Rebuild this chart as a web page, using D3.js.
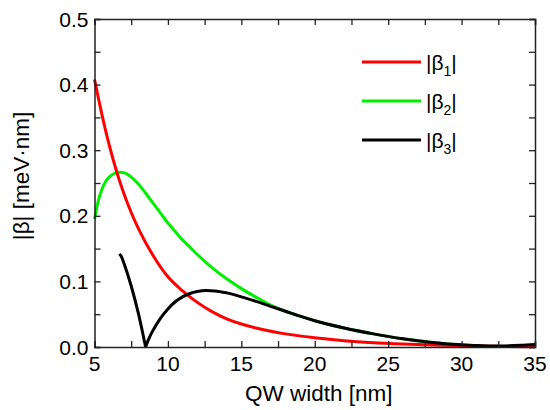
<!DOCTYPE html>
<html><head><meta charset="utf-8">
<script src="https://cdn.jsdelivr.net/npm/d3@7"></script>
<style>body{margin:0;background:#fff}svg{display:block;font-family:"Liberation Sans",Arial,sans-serif}</style>
</head><body><svg id="c" width="550" height="410"></svg>
<script>
const xTicks = [5, 10, 15, 20, 25, 30, 35];
const yTicks = [0.0, 0.1, 0.2, 0.3, 0.4, 0.5];
const seriesNames = ["1", "2", "3"];
const seriesColors = ["#ff0000", "#00ee00", "#000000"];

const beta1X = [5, 5.5, 6, 6.5, 7, 7.5, 8, 9, 10, 11, 12, 13, 14, 15, 16, 18, 20, 22, 24, 26, 28, 30, 32, 35];
const beta1Y = [0.408, 0.355, 0.308, 0.268, 0.234, 0.205, 0.180, 0.139, 0.107, 0.0855, 0.068, 0.054, 0.043, 0.035, 0.029, 0.020, 0.014, 0.0095, 0.0065, 0.0045, 0.003, 0.0018, 0.001, 0.0005];

const beta2X = [5, 5.25, 5.5, 5.75, 6, 6.35, 6.7, 7.1, 7.5, 8, 8.5, 9, 9.5, 10, 10.5, 11, 11.5, 12, 13, 14, 15, 16, 17, 18, 19, 20, 22, 24, 26, 28, 30, 31, 32, 33, 34, 35];
const beta2Y = [0.195, 0.222, 0.240, 0.252, 0.259, 0.2645, 0.2665, 0.265, 0.259, 0.248, 0.234, 0.219, 0.204, 0.189, 0.176, 0.163, 0.152, 0.141, 0.121, 0.104, 0.089, 0.076, 0.064, 0.0545, 0.047, 0.040, 0.029, 0.020, 0.0125, 0.007, 0.003, 0.0015, 0.0008, 0.0008, 0.0012, 0.002];

const beta3X = [6.7, 6.85, 7.0, 7.5, 8.0, 8.48, 8.75, 9.0, 9.5, 10, 10.5, 11, 11.5, 12, 12.6, 13.2, 14, 15, 16, 17, 18, 19, 20, 22, 24, 26, 28, 30, 31, 32, 33, 34, 35];
const beta3Y = [0.142, 0.137, 0.128, 0.093, 0.050, 0, 0.015, 0.026, 0.044, 0.058, 0.069, 0.0765, 0.0815, 0.0845, 0.086, 0.0855, 0.0825, 0.0765, 0.0695, 0.062, 0.0545, 0.047, 0.040, 0.029, 0.020, 0.0125, 0.007, 0.0035, 0.0022, 0.0015, 0.0017, 0.0025, 0.004];
const beta3MinIndex = 5;

const svg = d3.select("#c");
const L = 94.5, R = 535, T = 19, B = 347;
const x = d3.scaleLinear().domain([5, 35]).range([L, R]);
const y = d3.scaleLinear().domain([0, 0.5]).range([B, T]);

const toPts = (xs, ys) => xs.map((v, i) => [v, ys[i]]);
const line = d3.line().x(d => x(d[0])).y(d => y(d[1])).curve(d3.curveMonotoneX);

const plot = svg.append("g");
function drawSeries(pts, color) {
  plot.append("path").attr("d", line(pts)).attr("fill", "none")
    .attr("stroke", color).attr("stroke-width", 3).attr("stroke-linejoin", "round");
}
const p3 = toPts(beta3X, beta3Y);
drawSeries(toPts(beta2X, beta2Y), seriesColors[1]);
drawSeries(toPts(beta1X, beta1Y), seriesColors[0]);
drawSeries(p3.slice(0, beta3MinIndex + 1), seriesColors[2]);
drawSeries(p3.slice(beta3MinIndex), seriesColors[2]);

// axes with inward ticks
const tickLen = 6;
const xMinor = d3.range(5, 35.01, 2.5);
const yMinor = d3.range(0, 0.5001, 0.05);
const xb = d3.axisBottom(x).tickValues(xMinor).tickSize(-tickLen).tickFormat("");
const xt = d3.axisTop(x).tickValues(xMinor).tickSize(-tickLen).tickFormat("");
const yl = d3.axisLeft(y).tickValues(yMinor).tickSize(-tickLen).tickFormat("");
const yr = d3.axisRight(y).tickValues(yMinor).tickSize(-tickLen).tickFormat("");
[[xb, `translate(0,${B})`], [xt, `translate(0,${T})`], [yl, `translate(${L},0)`], [yr, `translate(${R},0)`]].forEach(([a, t]) => {
  const g = svg.append("g").attr("transform", t).call(a);
  g.select(".domain").attr("stroke", "#222").attr("stroke-width", 1.5);
  g.selectAll(".tick line").attr("stroke", "#222").attr("stroke-width", 1.3);
});

// tick labels
svg.append("g").selectAll("text").data(xTicks).join("text")
  .attr("x", d => x(d)).attr("y", B + 24).attr("text-anchor", "middle")
  .attr("font-size", 21).attr("fill", "#000").text(d => d);
svg.append("g").selectAll("text").data(yTicks).join("text")
  .attr("x", L - 6).attr("y", d => y(d) + 7.5).attr("text-anchor", "end")
  .attr("font-size", 21).attr("fill", "#000").text(d => d.toFixed(1));

// axis titles
svg.append("text").attr("x", (L + R) / 2 + 4).attr("y", 401).attr("text-anchor", "middle")
  .attr("font-size", 22.5).attr("fill", "#000").text("QW width [nm]");
svg.append("text").attr("transform", `translate(29,176) rotate(-90)`).attr("text-anchor", "middle")
  .attr("font-size", 22.5).attr("fill", "#000").text("|β| [meV·nm]");

// legend
const lg = svg.append("g");
seriesNames.forEach((n, i) => {
  const ly = 62 + i * 39;
  lg.append("line").attr("x1", 362).attr("x2", 421).attr("y1", ly).attr("y2", ly)
    .attr("stroke", seriesColors[i]).attr("stroke-width", 3);
  const t = lg.append("text").attr("x", 426).attr("y", ly + 8).attr("font-size", 21).attr("fill", "#000");
  t.append("tspan").text("|β");
  t.append("tspan").attr("font-size", 14).attr("dy", 6).text(n);
  t.append("tspan").attr("dy", -6).text("|");
});
</script></body></html>
